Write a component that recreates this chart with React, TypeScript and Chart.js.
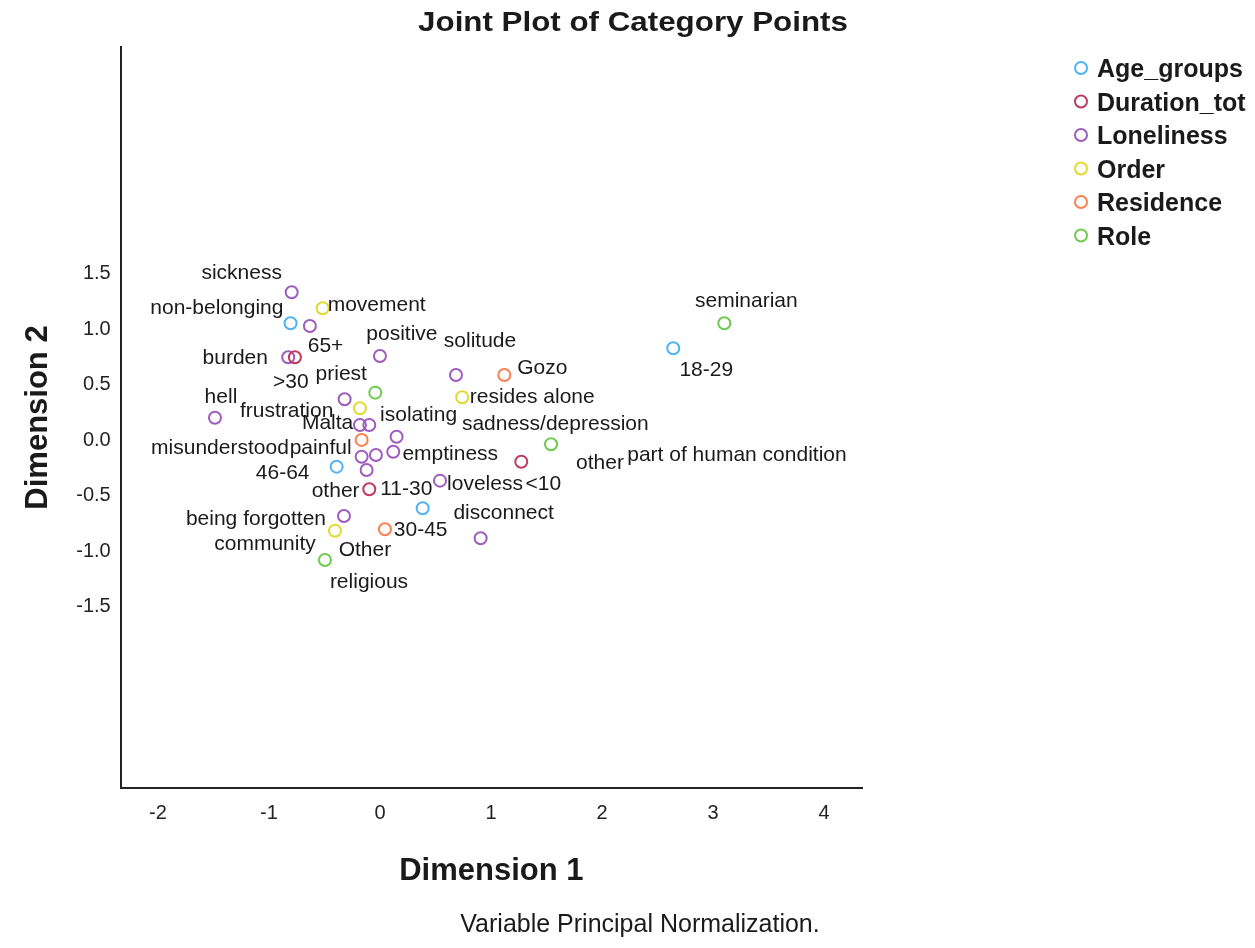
import React, { useEffect, useRef } from 'react';
import { Chart, registerables } from 'chart.js';

Chart.register(...registerables);

// ---------- data ----------
const xTickValues = [-2, -1, 0, 1, 2, 3, 4];
const yTickValues = [-1.5, -1, -0.5, 0, 0.5, 1, 1.5];

const seriesNames = ['Age_groups', 'Duration_tot', 'Loneliness', 'Order', 'Residence', 'Role'];

const ageCats = ['65+', '18-29', '46-64', '30-45'];
const ageDim1 = [-0.805, 2.642, -0.39, 0.385];
const ageDim2 = [1.056, 0.831, -0.236, -0.611];

const durCats = ['>30', '11-30', '<10'];
const durDim1 = [-0.766, -0.096, 1.273];
const durDim2 = [0.75, -0.44, -0.191];

const lonCats = [
  'sickness', 'non-belonging', 'burden', 'positive', 'solitude', 'frustration', 'hell',
  'misunderstood', 'sadness/depression', 'isolating', 'painful', 'part of human condition',
  'emptiness', 'other', 'loveless', 'being forgotten', 'disconnect',
];
const lonDim1 = [-0.795, -0.631, -0.826, 0.0, 0.685, -0.318, -1.486, -0.18, -0.096, 0.15, -0.165, -0.036, 0.12, -0.12, 0.541, -0.324, 0.907];
const lonDim2 = [1.335, 1.032, 0.75, 0.761, 0.59, 0.371, 0.205, 0.14, 0.14, 0.034, -0.146, -0.131, -0.101, -0.266, -0.362, -0.68, -0.881];

const ordCats = ['movement', 'resides alone', '', 'community'];
const ordDim1 = [-0.516, 0.741, -0.18, -0.405];
const ordDim2 = [1.191, 0.389, 0.29, -0.813];

const resCats = ['Gozo', 'Malta', 'Other'];
const resDim1 = [1.12, -0.165, 0.045];
const resDim2 = [0.59, 0.005, -0.8];

const roleCats = ['seminarian', 'priest', 'other', 'religious'];
const roleDim1 = [3.102, -0.042, 1.541, -0.495];
const roleDim2 = [1.056, 0.431, -0.034, -1.077];

// ---------- styling / layout ----------
const seriesColors = ['#4fb3f7', '#c0395f', '#9f5bbf', '#e3d92f', '#fd7f4f', '#6fcb4f'];

// label placement relative to each point (pixels)
const ageLabelOffsets = [[35, 23], [33, 22], [-54, 7], [-2, 22]];
const durLabelOffsets = [[-4, 25], [37, 0], [22, 23]];
const lonLabelOffsets = [
  [-50, -19], [-93, -18], [-53, 1], [22, -22], [24, -34], [-58, 12], [6, -21],
  [-140, 23], [186, -1], [22, -21], [-41, -8], [361, 0], [57, 3], [-31, 21], [45, 4], [-88, 3], [23, -25],
];
const ordLabelOffsets = [[54, -3], [70, 0], [0, 0], [-70, 13]];
const resLabelOffsets = [[38, -7], [-34, -17], [-20, 21]];
const roleLabelOffsets = [[22, -22], [-34, -18], [49, 19], [44, 22]];

const FONT = '"Liberation Sans", Arial, Helvetica, sans-serif';
const TEXT = '#1a1a1a';

const catsList = [ageCats, durCats, lonCats, ordCats, resCats, roleCats];
const dim1List = [ageDim1, durDim1, lonDim1, ordDim1, resDim1, roleDim1];
const dim2List = [ageDim2, durDim2, lonDim2, ordDim2, resDim2, roleDim2];
const offsetsList = [ageLabelOffsets, durLabelOffsets, lonLabelOffsets, ordLabelOffsets, resLabelOffsets, roleLabelOffsets];

function drawText(
  ctx: CanvasRenderingContext2D, text: string, x: number, y: number, font: string,
  align: CanvasTextAlign, baseline: CanvasTextBaseline, sx = 1, rot = 0,
) {
  ctx.save();
  ctx.translate(x, y);
  if (rot) ctx.rotate(rot);
  ctx.scale(sx, 1);
  ctx.font = font;
  ctx.textAlign = align;
  ctx.textBaseline = baseline;
  ctx.fillStyle = TEXT;
  ctx.fillText(text, 0, 0);
  ctx.restore();
}

const textPlugin = {
  id: 'spssTexts',
  afterDatasetsDraw(chart: any) {
    const ctx: CanvasRenderingContext2D = chart.ctx;
    chart.data.datasets.forEach((_ds: any, i: number) => {
      const meta = chart.getDatasetMeta(i);
      const cats = catsList[i];
      const offs = offsetsList[i];
      meta.data.forEach((el: any, j: number) => {
        const lab = cats[j];
        if (!lab) return;
        drawText(ctx, lab, el.x + offs[j][0], el.y + offs[j][1], `21px ${FONT}`, 'center', 'middle');
      });
    });
  },
  afterDraw(chart: any) {
    const ctx: CanvasRenderingContext2D = chart.ctx;
    const area = chart.chartArea;
    // title
    drawText(ctx, 'Joint Plot of Category Points', 625, 23, `bold 27px ${FONT}`, 'center', 'alphabetic', 1.16);
    // axis titles
    drawText(ctx, 'Dimension 1', (area.left + area.right) / 2, 872, `bold 31px ${FONT}`, 'center', 'alphabetic');
    drawText(ctx, 'Dimension 2', 39, (area.top + area.bottom) / 2, `bold 31px ${FONT}`, 'center', 'alphabetic', 1, -Math.PI / 2);
    // footnote
    drawText(ctx, 'Variable Principal Normalization.', 632, 924, `25px ${FONT}`, 'center', 'alphabetic');
    // legend
    seriesNames.forEach((name, i) => {
      const cy = 60 + 33.5 * i;
      ctx.save();
      ctx.beginPath();
      ctx.arc(1073, cy, 6, 0, Math.PI * 2);
      ctx.lineWidth = 2;
      ctx.strokeStyle = seriesColors[i];
      ctx.stroke();
      ctx.restore();
      drawText(ctx, name, 1089, cy + 9, `bold 25px ${FONT}`, 'left', 'alphabetic');
    });
  },
};

export default function App() {
  const canvasRef = useRef<HTMLCanvasElement | null>(null);

  useEffect(() => {
    if (!canvasRef.current) return;
    const datasets = seriesNames.map((name, i) => ({
      label: name,
      data: dim1List[i].map((x, j) => ({ x, y: dim2List[i][j] })),
      borderColor: seriesColors[i],
      backgroundColor: 'rgba(255,255,255,0)',
      pointRadius: 6,
      pointHoverRadius: 6,
      pointBorderWidth: 2,
      pointStyle: 'circle',
    }));

    const chart = new Chart(canvasRef.current, {
      type: 'scatter',
      data: { datasets },
      plugins: [textPlugin],
      options: {
        animation: false,
        responsive: false,
        events: [],
        layout: { padding: { left: 0, top: 39, right: 385, bottom: 0 } },
        plugins: {
          legend: { display: false },
          title: { display: false },
          tooltip: { enabled: false },
        },
        scales: {
          x: {
            type: 'linear',
            min: -2.335,
            max: 4.342,
            afterBuildTicks: (s: any) => { s.ticks = xTickValues.map((v) => ({ value: v })); },
            afterFit: (s: any) => { s.height = 152; },
            grid: { display: false, drawTicks: false },
            border: { display: true, color: '#222', width: 2 },
            ticks: {
              padding: 13,
              color: '#222',
              font: { family: FONT, size: 20 },
              callback: (v: any) => String(v),
            },
          },
          y: {
            type: 'linear',
            min: -3.131,
            max: 3.545,
            afterBuildTicks: (s: any) => { s.ticks = yTickValues.map((v) => ({ value: v })); },
            afterFit: (s: any) => { s.width = 112.7; },
            grid: { display: false, drawTicks: false },
            border: { display: true, color: '#222', width: 2 },
            ticks: {
              padding: 10,
              color: '#222',
              font: { family: FONT, size: 20 },
              callback: (v: any) => Number(v).toFixed(1),
            },
          },
        },
      } as any,
    });
    return () => chart.destroy();
  }, []);

  return (
    <div style={{ width: 1239, height: 932 }}>
      <canvas ref={canvasRef} width={1239} height={932} />
    </div>
  );
}
